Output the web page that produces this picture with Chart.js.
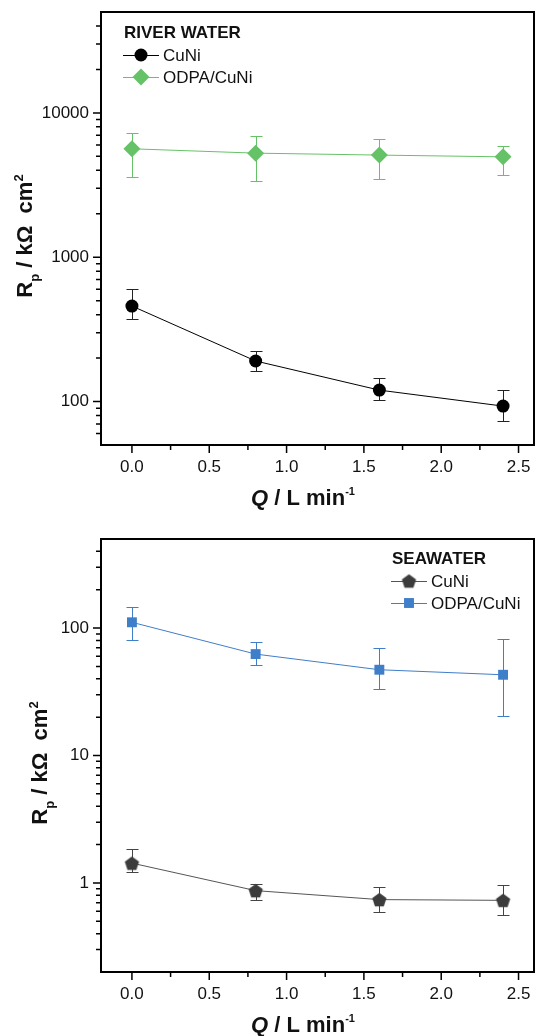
<!DOCTYPE html>
<html>
<head>
<meta charset="utf-8">
<script src="https://cdn.jsdelivr.net/npm/chart.js@4/dist/chart.umd.min.js"></script>
<style>
  body { margin: 0; background: #fff; }
  #wrap { position: relative; width: 536px; height: 1036px; }
  canvas { position: absolute; left: 0; }
</style>
</head>
<body>
<div id="wrap">
  <canvas id="river" width="536" height="516" style="top:0"></canvas>
  <canvas id="sea" width="536" height="520" style="top:516px"></canvas>
</div>
<script>
// Flow rate (L/min)
var flowRate = [0, 0.8, 1.6, 2.4];

// River water, Rp in kOhm cm2
var riverCuNi = [459, 191, 120, 93];
var riverCuNiHigh = [599, 225, 146, 120];
var riverCuNiLow = [373, 164, 102, 73];
var riverOdpa = [5640, 5260, 5100, 4960];
var riverOdpaHigh = [7310, 6900, 6580, 5850];
var riverOdpaLow = [3610, 3400, 3460, 3710];

// Seawater
var seaCuNi = [1.43, 0.87, 0.74, 0.73];
var seaCuNiHigh = [1.84, 0.98, 0.935, 0.96];
var seaCuNiLow = [1.21, 0.73, 0.595, 0.565];
var seaOdpa = [111, 62.5, 47.1, 43];
var seaOdpaHigh = [147, 77.2, 69.7, 82.4];
var seaOdpaLow = [81, 51.6, 33.4, 20.6];

// Tick labels
var xTicks = [0, 0.5, 1.0, 1.5, 2.0, 2.5];
var riverTicks = [100, 1000, 10000];
var seaTicks = [1, 10, 100];

var FONT = "'Liberation Sans', Arial, Helvetica, sans-serif";
Chart.defaults.font.family = FONT;

/* pentagon marker as an image point style */
function makePentagon(r, color) {
    var c = document.createElement('canvas');
    c.width = c.height = Math.ceil(2 * r + 2);
    var g = c.getContext('2d');
    g.fillStyle = color;
    g.beginPath();
    for (var k = 0; k < 5; k++) {
        var a = -Math.PI / 2 + k * 2 * Math.PI / 5;
        var px = c.width / 2 + r * Math.cos(a);
        var py = c.height / 2 + r * Math.sin(a) + 0.8;
        if (k === 0) g.moveTo(px, py); else g.lineTo(px, py);
    }
    g.closePath();
    g.fill();
    return c;
}

function drawMarker(ctx, style, r, color, x, y) {
    if (style instanceof HTMLCanvasElement) {
        ctx.drawImage(style, x - style.width / 2, y - style.height / 2);
        return;
    }
    ctx.fillStyle = color;
    ctx.beginPath();
    if (style === 'circle') {
        ctx.arc(x, y, r, 0, Math.PI * 2);
    } else if (style === 'rectRot') {
        ctx.moveTo(x, y - r); ctx.lineTo(x + r, y); ctx.lineTo(x, y + r); ctx.lineTo(x - r, y);
        ctx.closePath();
    } else if (style === 'rect') {
        var s = r * Math.SQRT1_2;
        ctx.rect(x - s, y - s, 2 * s, 2 * s);
    }
    ctx.fill();
}

function series(label, values, high, low, lineColor, markColor, barColor, style, radius) {
    return {
        label: label,
        data: flowRate.map(function(x, i) { return { x: x, y: values[i] }; }),
        errorHigh: high,
        errorLow: low,
        errorColor: barColor,
        showLine: true,
        borderColor: lineColor,
        borderWidth: 1,
        pointStyle: style,
        pointRadius: radius,
        pointHoverRadius: radius,
        pointBackgroundColor: markColor,
        pointBorderColor: markColor,
        pointBorderWidth: 0
    };
}

/* Error bars behind the markers */
var errorBars = {
    id: 'errorBars',
    beforeDatasetsDraw: function(chart) {
        var ctx = chart.ctx, xs = chart.scales.x, ys = chart.scales.y;
        chart.data.datasets.forEach(function(ds) {
            ctx.save();
            ctx.strokeStyle = ds.errorColor;
            ctx.lineWidth = 1;
            ds.data.forEach(function(p, i) {
                var px = Math.round(xs.getPixelForValue(p.x)) + 0.5;
                var top = Math.round(ys.getPixelForValue(ds.errorHigh[i])) + 0.5;
                var bot = Math.round(ys.getPixelForValue(ds.errorLow[i])) + 0.5;
                ctx.beginPath();
                ctx.moveTo(px, top); ctx.lineTo(px, bot);
                ctx.moveTo(px - 6, top); ctx.lineTo(px + 6, top);
                ctx.moveTo(px - 6, bot); ctx.lineTo(px + 6, bot);
                ctx.stroke();
            });
            ctx.restore();
        });
    }
};

/* Box frame and outward ticks */
var frame = {
    id: 'frame',
    afterDraw: function(chart, args, opts) {
        var ctx = chart.ctx, a = chart.chartArea;
        var xs = chart.scales.x, ys = chart.scales.y;
        ctx.save();
        ctx.strokeStyle = '#000';
        ctx.lineWidth = 2;
        ctx.strokeRect(a.left, a.top, a.right - a.left, a.bottom - a.top);
        ctx.lineWidth = 1.5;
        ctx.beginPath();
        xTicks.forEach(function(v) {
            var px = xs.getPixelForValue(v);
            ctx.moveTo(px, a.bottom); ctx.lineTo(px, a.bottom + 8);
        });
        for (var v = 0.25; v < xs.max; v += 0.5) {
            var px = xs.getPixelForValue(v);
            ctx.moveTo(px, a.bottom); ctx.lineTo(px, a.bottom + 5);
        }
        opts.yTicks.forEach(function(v) {
            var py = ys.getPixelForValue(v);
            ctx.moveTo(a.left, py); ctx.lineTo(a.left - 8, py);
        });
        var d0 = Math.floor(Math.log10(ys.min));
        for (var d = d0; Math.pow(10, d) < ys.max; d++) {
            for (var m = 2; m <= 9; m++) {
                var val = m * Math.pow(10, d);
                if (val <= ys.min || val >= ys.max) continue;
                var py = ys.getPixelForValue(val);
                ctx.moveTo(a.left, py); ctx.lineTo(a.left - 5, py);
            }
        }
        ctx.stroke();
        ctx.restore();
    }
};

function drawRich(ctx, parts, x, y, rotate) {
    ctx.save();
    ctx.translate(x, y);
    if (rotate) ctx.rotate(-Math.PI / 2);
    var total = 0;
    parts.forEach(function(p) { ctx.font = p.font; total += ctx.measureText(p.text).width; });
    var cx = -total / 2;
    ctx.fillStyle = '#111';
    ctx.textBaseline = 'alphabetic';
    parts.forEach(function(p) {
        ctx.font = p.font;
        ctx.fillText(p.text, cx, p.dy || 0);
        cx += ctx.measureText(p.text).width;
    });
    ctx.restore();
}

/* Axis titles with sub/superscripts */
var axisTitles = {
    id: 'axisTitles',
    afterDraw: function(chart, args, opts) {
        var ctx = chart.ctx;
        var big = 'bold 22px ' + FONT, small = 'bold 13px ' + FONT;
        drawRich(ctx, [
            { text: 'R', font: big },
            { text: 'p', font: small, dy: 7 },
            { text: ' / k\u03A9  cm', font: big },
            { text: '2', font: small, dy: -9 }
        ], opts.yX, opts.yY, true);
        drawRich(ctx, [
            { text: 'Q', font: 'italic bold 22px ' + FONT },
            { text: ' / L min', font: big },
            { text: '-1', font: 'bold 11px ' + FONT, dy: -10 }
        ], opts.xX, opts.xY, false);
    }
};

/* Legend inside the plot: header, then line + marker + label */
var boxLegend = {
    id: 'boxLegend',
    afterDraw: function(chart, args, opts) {
        var ctx = chart.ctx;
        ctx.save();
        ctx.fillStyle = '#111';
        ctx.textBaseline = 'middle';
        ctx.font = 'bold 17px ' + FONT;
        ctx.fillText(opts.title, opts.x + 1, opts.y);
        chart.data.datasets.forEach(function(ds, i) {
            var y = opts.y + 22 * (i + 1);
            ctx.strokeStyle = ds.borderColor;
            ctx.lineWidth = 1;
            ctx.beginPath();
            ctx.moveTo(opts.x, y + 0.5); ctx.lineTo(opts.x + 36, y + 0.5);
            ctx.stroke();
            drawMarker(ctx, ds.pointStyle, ds.pointRadius, ds.pointBackgroundColor, opts.x + 18, y);
            ctx.fillStyle = '#111';
            ctx.font = '17px ' + FONT;
            ctx.fillText(ds.label, opts.x + 40, y + 1);
        });
        ctx.restore();
    }
};

function noPad(s) {
    s.paddingTop = s.paddingBottom = s.paddingLeft = s.paddingRight = 0;
}

function makeChart(id, datasets, yMin, yMax, yTicks, pad, xHeight, extra) {
    return new Chart(document.getElementById(id), {
        type: 'scatter',
        data: { datasets: datasets },
        plugins: [errorBars, frame, axisTitles, boxLegend],
        options: {
            responsive: false,
            animation: false,
            devicePixelRatio: 1,
            // markers may poke past the frame; keep the plot box fixed
            layout: { padding: pad, autoPadding: false },
            plugins: {
                legend: { display: false },
                tooltip: { enabled: false },
                frame: { yTicks: yTicks },
                axisTitles: extra.titles,
                boxLegend: extra.legend
            },
            scales: {
                x: {
                    type: 'linear',
                    min: -0.2,
                    max: 2.6,
                    grid: { display: false, drawTicks: false },
                    border: { display: false },
                    afterBuildTicks: function(s) { s.ticks = xTicks.map(function(v) { return { value: v }; }); },
                    afterFit: function(s) { s.height = xHeight; noPad(s); },
                    ticks: {
                        // tall line box pushes labels down without side padding
                        padding: 0,
                        color: '#111',
                        font: { size: 17, lineHeight: 2.6 },
                        maxRotation: 0,
                        autoSkip: false,
                        callback: function(v) { return Number(v).toFixed(1); }
                    }
                },
                y: {
                    type: 'logarithmic',
                    min: yMin,
                    max: yMax,
                    grid: { display: false, drawTicks: false },
                    border: { display: false },
                    afterBuildTicks: function(s) { s.ticks = yTicks.map(function(v) { return { value: v }; }); },
                    afterFit: function(s) { s.width = 101; noPad(s); },
                    ticks: {
                        padding: 12,
                        color: '#111',
                        font: { size: 17 },
                        autoSkip: false,
                        callback: function(v) { return String(v); }
                    }
                }
            }
        }
    });
}

var green = '#66c266', blue = '#3f7ec8', dark = '#3c3c3c';

makeChart('river', [
    series('CuNi', riverCuNi, riverCuNiHigh, riverCuNiLow, '#000', '#000', '#222', 'circle', 6.5),
    series('ODPA/CuNi', riverOdpa, riverOdpaHigh, riverOdpaLow, green, green, green, 'rectRot', 8.5)
], 50, 50000, riverTicks, { left: 0, top: 12, right: 2, bottom: 0 }, 71, {
    titles: { yX: 32, yY: 236, xX: 303, xY: 505 },
    legend: { title: 'RIVER WATER', x: 123, y: 33 }
});

makeChart('sea', [
    series('CuNi', seaCuNi, seaCuNiHigh, seaCuNiLow, '#555', dark, '#444', makePentagon(7.5, dark), 7.5),
    series('ODPA/CuNi', seaOdpa, seaOdpaHigh, seaOdpaLow, blue, blue, blue, 'rect', 7)
], 0.2, 500, seaTicks, { left: 0, top: 23, right: 2, bottom: 0 }, 64, {
    titles: { yX: 47, yY: 247, xX: 303, xY: 516 },
    legend: { title: 'SEAWATER', x: 391, y: 43 }
});
</script>
</body>
</html>
